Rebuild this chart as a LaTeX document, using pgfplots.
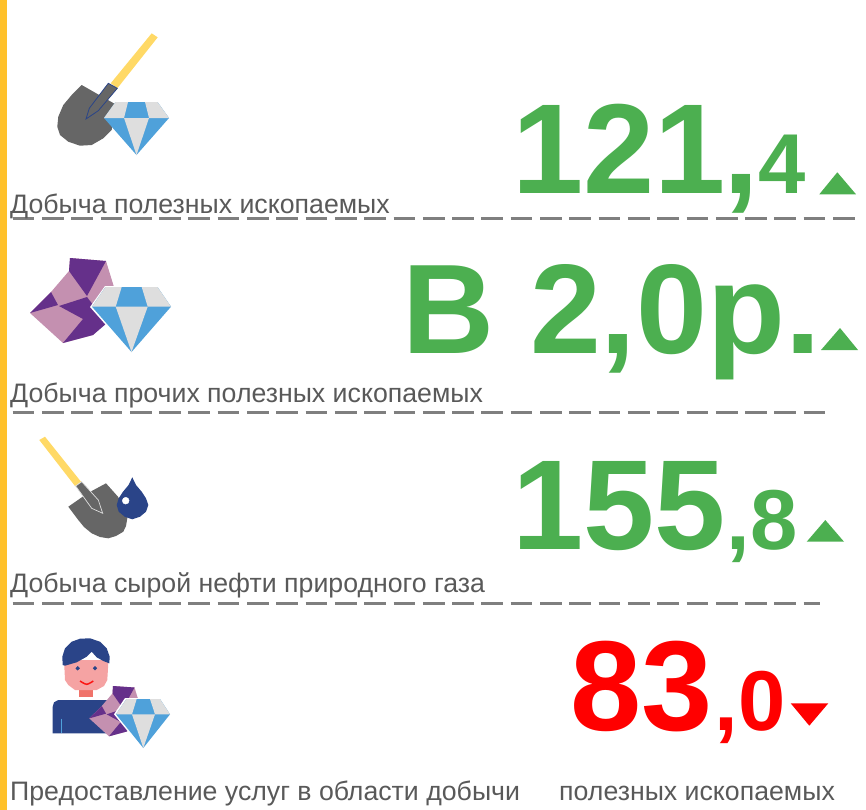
\documentclass[border=0pt]{standalone}
\usepackage{fontspec}
\setmainfont{Liberation Sans}
\usepackage{pgfplots}
\pgfplotsset{compat=1.18}
\definecolor{kgreen}{HTML}{4CAF50}
\definecolor{kred}{HTML}{FF0000}
\definecolor{ktext}{HTML}{595959}
\definecolor{kdash}{HTML}{7F7F7F}
\definecolor{kbar}{HTML}{FFC12B}
\definecolor{kyel}{HTML}{FFD966}
\definecolor{kshov}{HTML}{666666}
\definecolor{knavy}{HTML}{2A4488}
\definecolor{kblue}{HTML}{4FA1DA}
\definecolor{kgrey}{HTML}{DEDEDE}
\definecolor{kpur}{HTML}{65308A}
\definecolor{kpink}{HTML}{C490B0}
\definecolor{kskin}{HTML}{F5A3A3}
\definecolor{kneck}{HTML}{F0736A}
\newcommand\fs[1]{\fontsize{#1bp}{#1bp}\selectfont}
\newcommand\lab[3]{\node[anchor=base west,inner sep=0pt,text=ktext] at (axis cs:#1,#2) {\fs{26.7}#3};}
\newcommand\val[5]{\node[anchor=base west,inner sep=0pt,text=#4] at (axis cs:#1,#2) {\fs{#3}\bfseries #5};}
\newcommand\poly[2]{\addplot[fill=#1,draw=none,forget plot] coordinates {#2} -- cycle;}
\begin{document}
\begin{tikzpicture}
\useasboundingbox (0,0) rectangle (866bp,810bp);
\begin{axis}[at={(0,0)},anchor=south west,scale only axis,width=866bp,height=810bp,
  xmin=0,xmax=866,ymin=0,ymax=810,y dir=reverse,hide axis,clip=false]
% side bar
\poly{kbar}{(0,0)(7,0)(7,810)(0,810)}
% dashes
\addplot[kdash,line width=2.4bp,dash pattern=on 21.7bp off 7.6bp,forget plot] coordinates {(12.6,218.5)(856,218.5)};
\addplot[kdash,line width=2.4bp,dash pattern=on 21.7bp off 7.6bp,forget plot] coordinates {(12.6,412.5)(828,412.5)};
\addplot[kdash,line width=2.4bp,dash pattern=on 21.7bp off 7.6bp,forget plot] coordinates {(12.6,603.5)(820,603.5)};
% icon 1
\poly{kshov}{(81.7,85)(71.7,95)(63.3,105)(58.3,116.7)(57.3,126.7)(60,135)(68.3,141.7)(80,145.7)(91.7,145)(103.3,138.3)(111.7,130)(115,104)}
\poly{kyel}{(110.7,83.3)(117.3,88.3)(157.7,37.3)(151.7,33.3)}
\addplot[fill=kshov,draw=knavy,line width=0.8bp,forget plot] coordinates {(86,119)(89.3,108.3)(108.3,83.3)(117.3,88.3)(98.3,110.7)} -- cycle;
\poly{kblue}{(115.5,102)(157.5,102)(169,118)(136.5,155)(104,118)}
\poly{kgrey}{(115.5,102)(128,102)(124,118)(104,118)}
\poly{kgrey}{(145,102)(157.5,102)(169,118)(149,118)}
\poly{kgrey}{(124,118)(149,118)(136.5,155)}
% icon 2
\poly{kpink}{(70,258)(106,261)(114,287)(107,320)(93,335)(63,343)(30,313)(51,292)(69,271)}
\poly{kpur}{(70,258)(106,261)(87,296)(69,271)}
\poly{kpur}{(51,292)(58,305)(30,313)}
\poly{kpur}{(59,306)(87,297)(97,310)(107,323)(93,335)(63,343)(83,319)}
\poly{white}{(105,286)(157,286)(173,307)(131.5,354)(90,307)}
\poly{kblue}{(105.5,287)(157.5,287)(171,306.7)(131.5,352)(92,306.7)}
\poly{kgrey}{(105.5,287)(121.7,287)(115.7,306.7)(92,306.7)}
\poly{kgrey}{(141.7,287)(157.5,287)(171,306.7)(147.7,306.7)}
\poly{kgrey}{(115.7,306.7)(147.7,306.7)(131.5,352)}
% icon 3
\poly{kyel}{(39.3,440)(45,436.7)(81,481.7)(75,486)}
\poly{kshov}{(68.3,506.7)(88,493)(106,483.3)(118,496.7)(124,508)(127.3,518.3)(126,526)(123.3,531.7)(116,536)(108.3,538.3)(100,537)(91.7,533.3)(84,527)(78.3,520)}
\addplot[fill=kshov,draw=kgrey,line width=0.7bp,forget plot] coordinates {(75.7,486)(81.7,481.7)(98.3,500)(102.7,513.3)(91.7,508.3)} -- cycle;
\poly{knavy}{(132.3,477.3)(136,485)(141.7,491.7)(146,498.3)(148.3,505)(146,511.7)(140,516.7)(132.3,519.3)(124.7,516.7)(118.7,511.7)(116.7,505)(118.7,498.3)(123,491.7)(128.6,485)}
\addplot[only marks,mark=*,mark size=3.4bp,mark options={fill=white,draw=white},forget plot] coordinates {(125.7,500.7)};
% icon 4
\poly{knavy}{(52.7,733.3)(52.7,706.7)(54,702.3)(58.3,700)(110,700)(110,733.3)}
\addplot[color=kblue,line width=1bp,forget plot] coordinates {(61,718.5)(61,733)};
\poly{kneck}{(79,688)(93.3,688)(93.3,697)(79,697)}
\poly{kskin}{(64,660)(108.5,660)(107.3,680)(104,686)(96.7,690)(75,690)(68.3,685)(65,680)}
\poly{knavy}{(62.7,665)(62.3,656.7)(65,648.3)(71.7,641.7)(80,638.7)(90,638.3)(100,641.7)(106.7,648.3)(109.7,656.7)(109.3,663.3)(103.3,661)(96.7,657.3)(91.7,651.7)(86.7,656.7)(76.7,662.3)(65,665.7)}
\addplot[only marks,mark=*,mark size=1.9bp,mark options={fill=knavy,draw=knavy},forget plot] coordinates {(77.7,668.3)(95,668.3)};
\addplot[color=red!80!kneck,line width=1.5bp,smooth,forget plot] coordinates {(80,681)(86.7,684.3)(93.3,681)};
\poly{kpink}{(113,686)(134.5,687.5)(139.3,703)(135,722.6)(126.8,731.5)(109,736.3)(89.3,718.4)(101.8,706)(112.5,693.4)}
\poly{kpur}{(113,686)(134.5,687.5)(123,708.5)(112.5,693.4)}
\poly{kpur}{(101.8,706)(106,713.6)(89.3,718.4)}
\poly{kpur}{(106.6,714.3)(123.2,708.9)(129.2,716.6)(135,724.4)(126.8,731.5)(109,736.3)(120.8,722)}
\poly{white}{(125,698)(162,698)(172,714.3)(143,750)(114,714.3)}
\poly{kblue}{(126.5,699)(160,699)(170,714.3)(143.3,748)(116,714.3)}
\poly{kgrey}{(126.5,699)(136.7,699)(132,714.3)(116,714.3)}
\poly{kgrey}{(150,699)(160,699)(170,714.3)(155,714.3)}
\poly{kgrey}{(132,714.3)(155,714.3)(143.3,748)}
% labels
\lab{10}{213}{Добыча полезных ископаемых}
\lab{10}{402}{Добыча прочих полезных ископаемых}
\lab{10}{592}{Добыча сырой нефти природного газа}
\lab{10}{800}{Предоставление услуг в области добычи}
\lab{559}{800}{полезных ископаемых}
% values
\val{512}{193.3}{128}{kgreen}{121}
\val{723}{193.3}{128}{kgreen}{,}
\val{758}{193.3}{85}{kgreen}{4}
\val{402.5}{353.5}{127.5}{kgreen}{В 2,0р.}
\val{512}{549.5}{128}{kgreen}{155}
\val{726.5}{549.5}{85}{kgreen}{,8}
\val{570}{730}{128}{kred}{83}
\val{714.5}{730}{85}{kred}{,0}
% arrows
\poly{kgreen}{(819.3,194.3)(856,194.3)(837.3,172.3)}
\poly{kgreen}{(821,350)(858,350)(840,328)}
\poly{kgreen}{(806.7,541.7)(844,541.7)(825.3,520)}
\poly{kred}{(790.7,703.3)(828.3,703.3)(809.3,725.7)}
\end{axis}
\end{tikzpicture}
\end{document}
